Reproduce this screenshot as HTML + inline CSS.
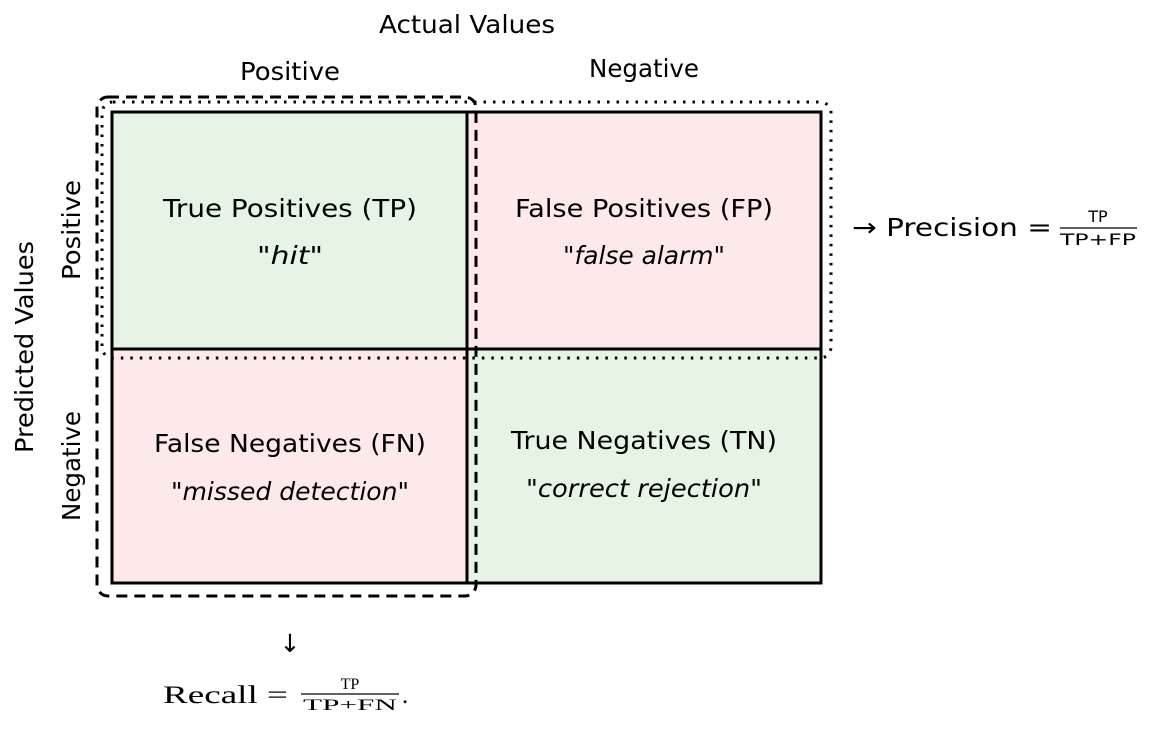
<!DOCTYPE html>
<html><head><style>body{margin:0;background:#fff}svg{display:block}</style></head>
<body>
<svg width="1157" height="729" viewBox="0 0 1157 729" xmlns="http://www.w3.org/2000/svg" font-family="'DejaVu Sans','Liberation Sans',sans-serif" font-size="25" fill="#000">
<rect x="112" y="112" width="355" height="237" fill="#e6f4e6"/>
<rect x="467" y="112" width="354" height="237" fill="#fde8ea"/>
<rect x="112" y="349" width="355" height="234" fill="#fde8ea"/>
<rect x="467" y="349" width="354" height="234" fill="#e6f4e6"/>
<g stroke="#000" stroke-width="3" fill="none">
<rect x="112" y="112" width="709" height="471"/>
<line x1="467" y1="112" x2="467" y2="583"/>
<line x1="112" y1="349" x2="821" y2="349"/>
</g>
<rect x="97" y="97" width="379" height="499" rx="11" fill="none" stroke="#000" stroke-width="3" stroke-dasharray="11,7"/>
<rect x="102" y="102" width="729" height="256" rx="11" fill="none" stroke="#000" stroke-width="3" stroke-dasharray="2.5,7"/>
<g text-anchor="middle" lengthAdjust="spacingAndGlyphs">
<text x="467" y="33" textLength="176" lengthAdjust="spacingAndGlyphs">Actual Values</text>
<text x="290" y="80" textLength="100" lengthAdjust="spacingAndGlyphs">Positive</text>
<text x="644" y="77" textLength="110" lengthAdjust="spacingAndGlyphs">Negative</text>
<text x="290" y="217" textLength="254" lengthAdjust="spacingAndGlyphs">True Positives (TP)</text>
<text x="290" y="264" font-style="italic" textLength="66" lengthAdjust="spacingAndGlyphs">"hit"</text>
<text x="644" y="217" textLength="258" lengthAdjust="spacingAndGlyphs">False Positives (FP)</text>
<text x="644" y="264" font-style="italic" textLength="162" lengthAdjust="spacingAndGlyphs">"false alarm"</text>
<text x="290" y="452" textLength="272" lengthAdjust="spacingAndGlyphs">False Negatives (FN)</text>
<text x="290" y="500" font-style="italic" textLength="238" lengthAdjust="spacingAndGlyphs">"missed detection"</text>
<text x="644" y="449" textLength="266" lengthAdjust="spacingAndGlyphs">True Negatives (TN)</text>
<text x="644" y="497" font-style="italic" textLength="236" lengthAdjust="spacingAndGlyphs">"correct rejection"</text>
<text transform="translate(80,230) rotate(-90)" textLength="100" lengthAdjust="spacingAndGlyphs">Positive</text>
<text transform="translate(80,466) rotate(-90)" textLength="110" lengthAdjust="spacingAndGlyphs">Negative</text>
<text transform="translate(33,347) rotate(-90)" textLength="212" lengthAdjust="spacingAndGlyphs">Predicted Values</text>
<text x="290" y="652">↓</text>
</g>
<text x="852" y="236" textLength="200" lengthAdjust="spacingAndGlyphs">→ Precision =</text>
<g text-anchor="middle" font-size="16">
<text x="1098" y="222">TP</text>
<line x1="1060" y1="228" x2="1137" y2="228" stroke="#000" stroke-width="1.2"/>
<text x="1098" y="245" textLength="76" lengthAdjust="spacingAndGlyphs">TP+FP</text>
</g>
<text x="163" y="703" font-family="'Liberation Serif',serif" font-size="25" textLength="125" lengthAdjust="spacingAndGlyphs">Recall =</text>
<g text-anchor="middle" font-family="'Liberation Serif',serif" font-size="16">
<text x="350" y="689">TP</text>
<line x1="301" y1="694" x2="399" y2="694" stroke="#000" stroke-width="1.2"/>
<text x="350" y="710" textLength="94" lengthAdjust="spacingAndGlyphs">TP+FN</text>
</g>
<text x="402" y="703" font-family="'Liberation Serif',serif" font-size="25">.</text>
</svg>
</body></html>
